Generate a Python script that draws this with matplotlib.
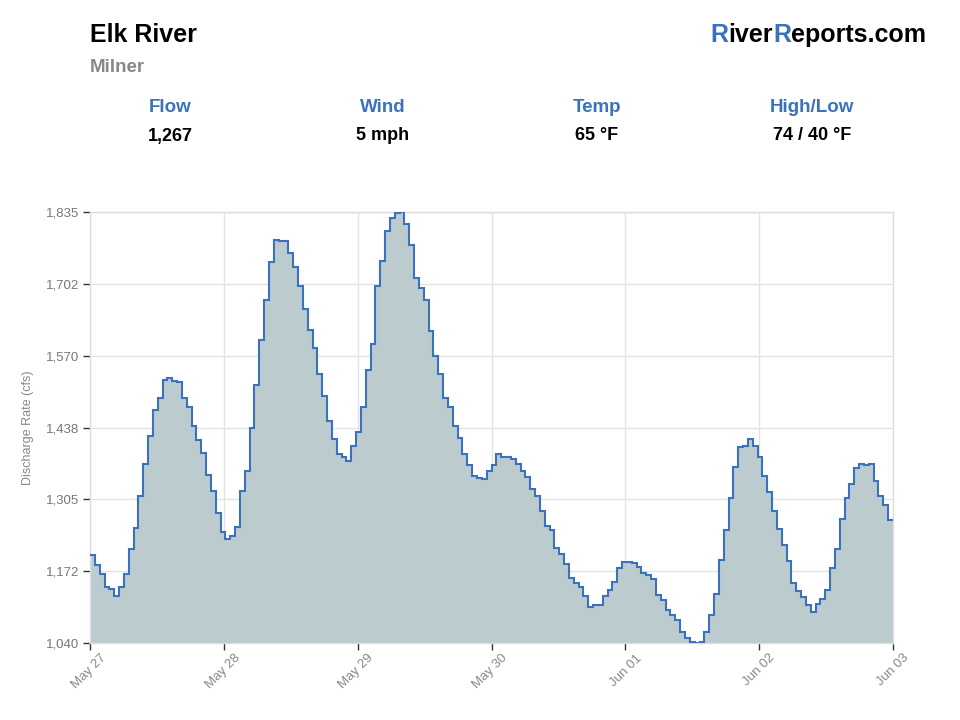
import numpy as np
import matplotlib
matplotlib.use('Agg')
import matplotlib.pyplot as plt
import matplotlib.transforms as mtransforms

plt.rcParams['font.family'] = ['Liberation Sans', 'DejaVu Sans']

# discharge readings (cfs), one per step
flow = [1202, 1183, 1167, 1144, 1140, 1127, 1143, 1167, 1213, 1252,
        1311, 1370, 1421, 1470, 1492, 1526, 1528, 1523, 1521, 1491,
        1476, 1441, 1414, 1390, 1350, 1320, 1280, 1245, 1232, 1238,
        1254, 1320, 1358, 1436, 1516, 1598, 1673, 1742, 1783, 1781,
        1781, 1759, 1734, 1698, 1657, 1617, 1584, 1536, 1496, 1449,
        1416, 1389, 1383, 1376, 1403, 1429, 1476, 1544, 1591, 1698,
        1744, 1800, 1824, 1834, 1835, 1812, 1774, 1714, 1694, 1673,
        1616, 1569, 1537, 1491, 1476, 1440, 1418, 1389, 1368, 1348,
        1345, 1343, 1357, 1368, 1389, 1384, 1384, 1380, 1370, 1358,
        1347, 1324, 1312, 1283, 1256, 1248, 1215, 1205, 1185, 1160,
        1151, 1143, 1127, 1106, 1110, 1110, 1127, 1138, 1153, 1178,
        1190, 1190, 1187, 1181, 1169, 1165, 1158, 1128, 1120, 1101,
        1092, 1082, 1061, 1050, 1042, 1040, 1041, 1060, 1092, 1130,
        1193, 1248, 1308, 1364, 1401, 1403, 1416, 1403, 1384, 1348,
        1319, 1283, 1251, 1220, 1191, 1150, 1135, 1125, 1111, 1098,
        1112, 1122, 1138, 1178, 1213, 1268, 1308, 1333, 1363, 1370,
        1368, 1370, 1338, 1311, 1294, 1267]

x_labels = ['May 27', 'May 28', 'May 29', 'May 30', 'Jun 01', 'Jun 02', 'Jun 03']
y_ticks = [1040, 1172.5, 1305, 1437.5, 1570, 1702.5, 1835]
y_labels = ['1,040', '1,172', '1,305', '1,438', '1,570', '1,702', '1,835']

stat_names = ['Flow', 'Wind', 'Temp', 'High/Low']
stat_values = ['1,267', '5 mph', '65 °F', '74 / 40 °F']

blue = '#3a72c0'
fill = '#bccbce'

fig = plt.figure(figsize=(9.6, 7.2), dpi=100)
ax = fig.add_axes([90/960, 1 - 643/720, (893-90)/960, (643-212)/720])

n = len(flow)
edges = np.arange(n + 1)
ax.stairs(flow, edges, baseline=1040, fill=True, color=fill, zorder=2)
ax.stairs(flow, edges, baseline=None, color=blue, linewidth=1.5, zorder=3)

ax.set_xlim(0, n)
ax.set_ylim(1040, 1835)

xt = np.linspace(0, n, len(x_labels))
ax.set_xticks(xt)
ax.set_xticklabels([])
# rotated date labels, ends nudged right of each tick like the original
shift = mtransforms.ScaledTranslation(10/100, -9/100, fig.dpi_scale_trans)
trans = ax.get_xaxis_transform() + shift
for xv, lab in zip(xt, x_labels):
    ax.text(xv, 0, lab, transform=trans, rotation=45, ha='right', va='top',
            rotation_mode='anchor', color='#888888', fontsize=9.5, clip_on=False)

ax.set_yticks(y_ticks)
ax.set_yticklabels(y_labels, color='#777777', fontsize=9.5)
ax.tick_params(axis='both', length=5, width=1, color='#333333', pad=3)

ax.grid(True, color='#e3e3e3', linewidth=1, zorder=0)
ax.set_axisbelow(True)
for s in ax.spines.values():
    s.set_color('#dddddd')
    s.set_linewidth(1)

ax.set_ylabel('Discharge Rate (cfs)', color='#888888', fontsize=9, labelpad=8)

# header
fig.text(90/960, 1 - 35/720, 'Elk River', fontsize=18, fontweight='bold',
         color='black', va='center', ha='left')
fig.text(90/960, 1 - 67/720, 'Milner', fontsize=13.5, fontweight='bold',
         color='#888888', va='center', ha='left')

# RiverReports.com, right aligned with blue R's
pieces = [('R', blue), ('iver', 'black'), ('R', blue), ('eports.com', 'black')]
fig.canvas.draw()
r = fig.canvas.get_renderer()
tmp = fig.text(0, 0, 'RiverReports.com', fontsize=18, fontweight='bold')
w = tmp.get_window_extent(renderer=r).width
tmp.remove()
xp = 926 - w
for txt, col in pieces:
    t = fig.text(xp / 960, 1 - 35/720, txt, fontsize=18, fontweight='bold',
                 color=col, va='center', ha='left')
    xp = t.get_window_extent(renderer=r).x1

stat_x = [170, 383, 597, 812]
for sx, name, val in zip(stat_x, stat_names, stat_values):
    fig.text(sx/960, 1 - 108/720, name, fontsize=13.5, fontweight='bold',
             color=blue, ha='center', va='center')
    fig.text(sx/960, 1 - 136/720, val, fontsize=13, fontweight='bold',
             color='black', ha='center', va='center')

plt.savefig('out.png', dpi=100)
